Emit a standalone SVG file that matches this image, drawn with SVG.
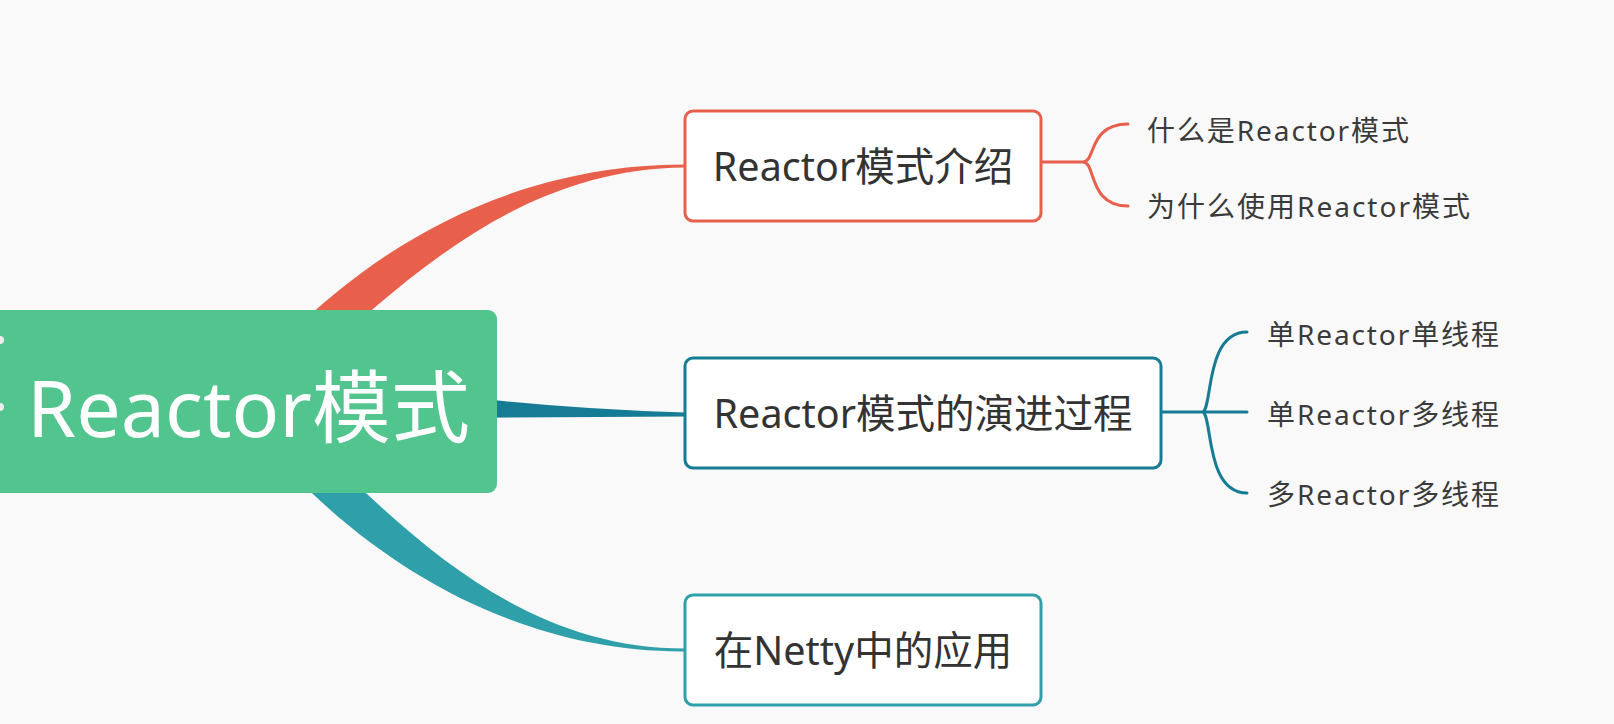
<svg xmlns="http://www.w3.org/2000/svg" width="1614" height="724" viewBox="0 0 1614 724">
<style>
text{font-family:"Noto Sans","Noto Sans CJK SC",sans-serif}
.box{fill:#ffffff;stroke-width:3}
.t1{font-size:39.5px;fill:#333333;text-anchor:middle}
.t2{font-size:28px;fill:#3a3a3a}
.br{fill:none;stroke-width:3;stroke-linecap:round}
.red{stroke:#E8604C}
.dteal{stroke:#167C95}
.teal{stroke:#2F9FAA}
</style>
<rect x="0" y="0" width="1614" height="724" fill="#F9F9F9"/>
<g id="connectors">
<path d="M287,337 C386,238 520,164.5 685,164.5 L685,167.5 C530,168.5 418,266 313,363 Z" fill="#E8604C"/>
<path d="M440,394 Q560,409 685,412.5 L685,416.5 L440,418 Z" fill="#167C95"/>
<path d="M313,442 C415,542 525,648.5 685,648.5 L685,651.5 C525,652.5 385,572 287,468 Z" fill="#2F9FAA"/>
<path class="br red" d="M1041,162 H1083 M1083,162 C1096,162 1088,124 1128,124 M1083,162 C1096,162 1088,206 1128,206"/>
<path class="br dteal" d="M1161,412 H1247 M1202,412 C1213,412 1204,332 1247,332 M1202,412 C1213,412 1204,493 1247,493"/>
</g>
<g id="root">
<rect x="-10" y="310" width="507" height="183" rx="9" fill="#52C48E"/>
<circle cx="0" cy="340" r="4" fill="#eeeeee"/>
<circle cx="0" cy="407" r="4" fill="#eeeeee"/>
<text x="248.5" y="437" font-size="79" fill="#ffffff" text-anchor="middle">Reactor模式</text>
</g>
<g id="node1">
<rect class="box red" x="685" y="111" width="356" height="110" rx="8"/>
<text class="t1" x="863" y="181">Reactor模式介绍</text>
</g>
<g id="node2">
<rect class="box dteal" x="685" y="358" width="476" height="110" rx="8"/>
<text class="t1" x="923" y="428">Reactor模式的演进过程</text>
</g>
<g id="node3">
<rect class="box teal" x="685" y="595" width="356" height="110" rx="8"/>
<text class="t1" x="863" y="665">在Netty中的应用</text>
</g>
<g id="sub1a"><text class="t2" x="1147" y="141" textLength="262" lengthAdjust="spacing">什么是Reactor模式</text></g>
<g id="sub1b"><text class="t2" x="1147" y="217" textLength="323" lengthAdjust="spacing">为什么使用Reactor模式</text></g>
<g id="sub2a"><text class="t2" x="1267" y="345" textLength="232" lengthAdjust="spacing">单Reactor单线程</text></g>
<g id="sub2b"><text class="t2" x="1267" y="425" textLength="232" lengthAdjust="spacing">单Reactor多线程</text></g>
<g id="sub2c"><text class="t2" x="1267" y="505" textLength="232" lengthAdjust="spacing">多Reactor多线程</text></g>
</svg>
